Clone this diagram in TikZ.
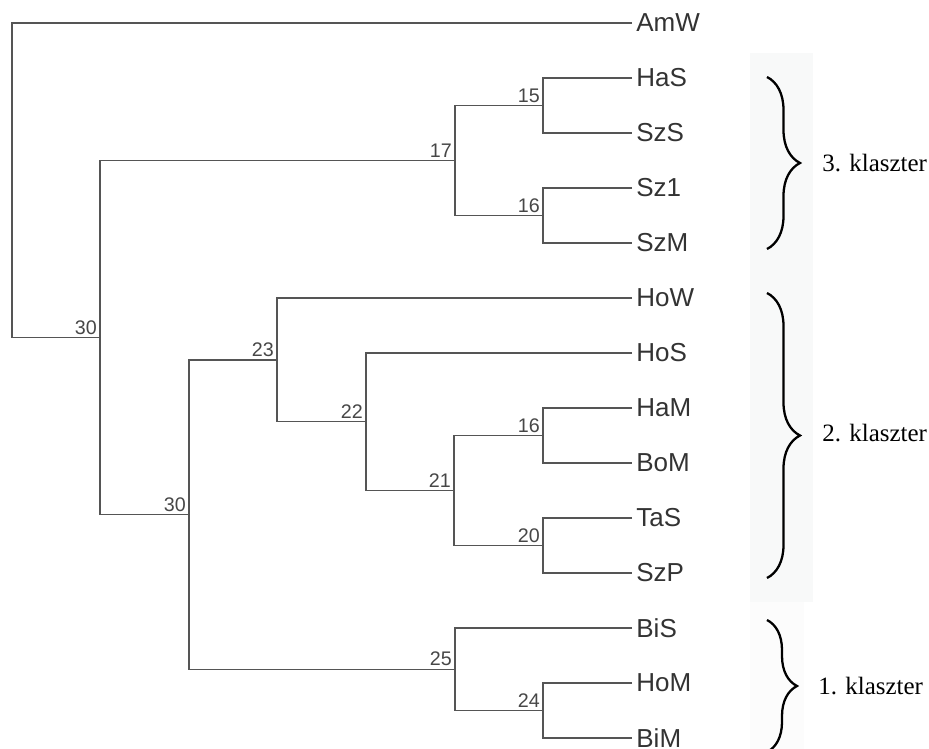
\documentclass[tikz,border=0pt]{standalone}
\usepackage{fontspec}
\setmainfont{Liberation Serif}
\setsansfont{Liberation Sans}
\usetikzlibrary{decorations.pathreplacing}
\definecolor{ln}{HTML}{555555}
\definecolor{tx}{HTML}{333333}
\definecolor{strip}{HTML}{F8F9F9}
\definecolor{stripb}{HTML}{FCFCFC}
\tikzset{
  br/.style={draw=ln,line width=0.85pt},
  leaf/.style={anchor=west,inner xsep=2.3pt,inner ysep=0pt,text=tx,font=\sffamily\fontsize{14.8}{15}\selectfont},
  num/.style={inner sep=1.6pt,text=tx!90!white,font=\sffamily\fontsize{11.2}{12}\selectfont},
  kbrace/.style={draw=black,line width=1.3pt,decorate,decoration={brace,amplitude=#1}},
  klab/.style={anchor=west,inner sep=0pt,font=\fontsize{14.2}{15}\selectfont}
}
\begin{document}
\begin{tikzpicture}[x=0.02cm,y=-0.02cm]
\useasboundingbox (0,0) rectangle (929,749);
\fill[strip] (750,53) rectangle (813,602);
\fill[stripb] (750,602) rectangle (804,749);
% leaves
\foreach \n [count=\i from 0] in {AmW,HaS,SzS,Sz1,SzM,HoW,HoS,HaM,BoM,TaS,SzP,BiS,HoM,BiM}
  \node[leaf] (\n) at (632,{23+55*\i}) {\n};
% joins
\coordinate[label={[num]above left:15}] (n15) at (543,105.5);
\coordinate[label={[num]above left:16}] (n16a) at (543,215.5);
\coordinate[label={[num]above left:17}] (n17) at (455,160.5);
\coordinate[label={[num]above left:16}] (n16b) at (543,435.5);
\coordinate[label={[num]above left:20}] (n20) at (543,545.5);
\coordinate[label={[num]above left:21}] (n21) at (454,490.5);
\coordinate[label={[num]above left:22}] (n22) at (366,421.75);
\coordinate[label={[num]above left:23}] (n23) at (277,359.9);
\coordinate[label={[num]above left:24}] (n24) at (543,710.5);
\coordinate[label={[num]above left:25}] (n25) at (455,669.25);
\coordinate[label={[num]above left:30}] (n30b) at (189,514.6);
\coordinate[label={[num]above left:30}] (n30a) at (100,337.5);
\coordinate (root) at (12,337.5);
\draw[br] (HaS.west) -| (n15) |- (SzS.west);
\draw[br] (Sz1.west) -| (n16a) |- (SzM.west);
\draw[br] (n15) -| (n17) |- (n16a);
\draw[br] (HaM.west) -| (n16b) |- (BoM.west);
\draw[br] (TaS.west) -| (n20) |- (SzP.west);
\draw[br] (n16b) -| (n21) |- (n20);
\draw[br] (HoS.west) -| (n22) |- (n21);
\draw[br] (HoW.west) -| (n23) |- (n22);
\draw[br] (HoM.west) -| (n24) |- (BiM.west);
\draw[br] (BiS.west) -| (n25) |- (n24);
\draw[br] (n23) -| (n30b) |- (n25);
\draw[br] (n17) -| (n30a) |- (n30b);
\draw[br] (AmW.west) -| (root) |- (n30a);
% clusters
\coordinate (k3a) at (767,77);
\coordinate (k3b) at (767,249);
\coordinate (k2a) at (767,293);
\coordinate (k2b) at (767,578);
\coordinate (k1a) at (767,620);
\coordinate (k1b) at (767,752);
\draw[kbrace=0.66cm] (k3a) -- (k3b);
\draw[kbrace=0.66cm] (k2a) -- (k2b);
\draw[kbrace=0.6cm] (k1a) -- (k1b);
\node[klab] (k3) at (822,163) {3. klaszter};
\node[klab] (k2) at (822,433) {2. klaszter};
\node[klab] (k1) at (818,686) {1. klaszter};
\end{tikzpicture}
\end{document}
